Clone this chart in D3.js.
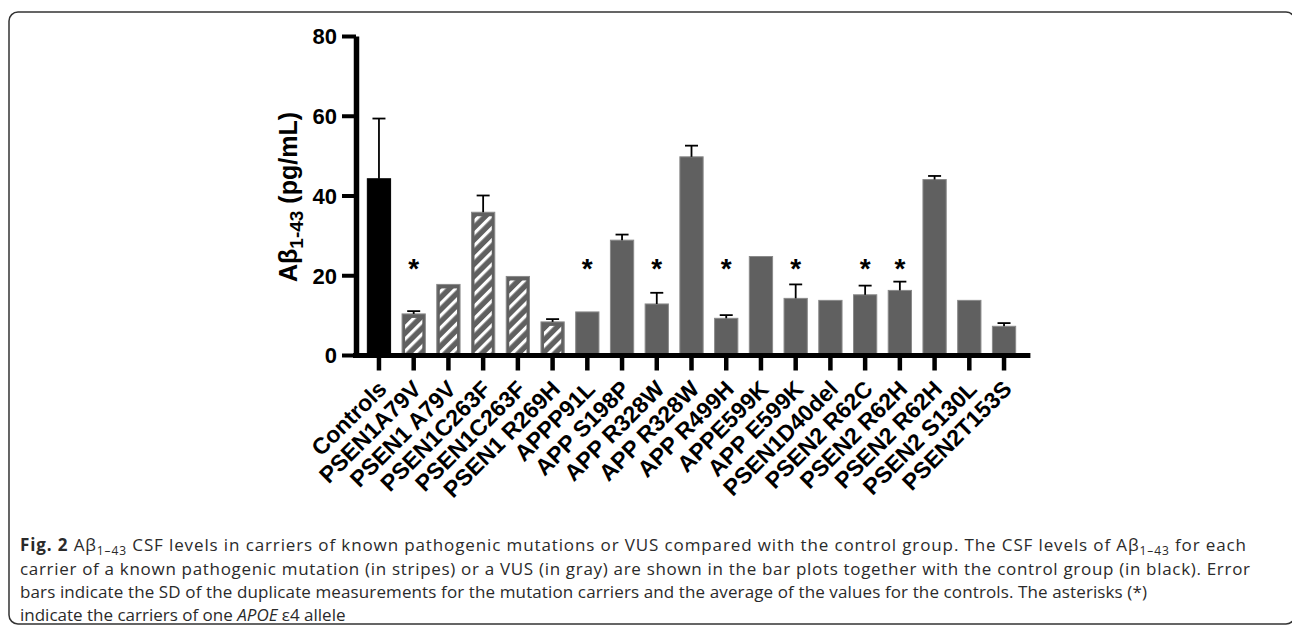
<!DOCTYPE html>
<html>
<head>
<meta charset="utf-8">
<script src="https://cdn.jsdelivr.net/npm/d3@7"></script>
<style>
	body { margin: 0; background: #fff; }
	svg { display: block; }
	.tick-lbl { font-family: "Liberation Sans", Arial, sans-serif; font-weight: bold; font-size: 22px; fill: #000; }
	.caption { font-family: "Open Sans", "Noto Sans", sans-serif; font-size: 17px; fill: #2a2a2a; }
</style>
</head>
<body>
<svg id="chart"></svg>
<script>
// bar categories, left to right
let categories = ['Controls', 'PSEN1A79V', 'PSEN1 A79V', 'PSEN1C263F', 'PSEN1C263F', 'PSEN1 R269H',
	'APPP91L', 'APP S198P', 'APP R328W', 'APP R328W', 'APP R499H', 'APPE599K', 'APP E599K',
	'PSEN1D40del', 'PSEN2 R62C', 'PSEN2 R62H', 'PSEN2 R62H', 'PSEN2 S130L', 'PSEN2T153S'];

// mean Abeta 1-43 (pg/mL)
let values = [44.2, 10.3, 17.7, 35.8, 19.7, 8.3, 10.8, 28.8, 12.8, 49.7, 9.2, 24.7, 14.2, 13.7, 15.1, 16.2, 44.0, 13.7, 7.2];
// upper error bar length (SD), 0 = no visible bar
let errors = [15.1, 0.7, 0, 4.2, 0, 0.7, 0, 1.4, 2.8, 2.8, 0.8, 0, 3.5, 0, 2.3, 2.2, 0.9, 0, 0.8];
// control / known pathogenic (stripes) / VUS (gray)
let groups = ['control', 'known', 'known', 'known', 'known', 'known', 'vus', 'vus', 'vus', 'vus',
	'vus', 'vus', 'vus', 'vus', 'vus', 'vus', 'vus', 'vus', 'vus'];
// carriers of one APOE e4 allele
let apoe4 = [0, 1, 0, 0, 0, 0, 1, 0, 1, 0, 1, 0, 1, 0, 1, 1, 0, 0, 0];
let yTicks = [0, 20, 40, 60, 80];

let w = 1292, h = 626;
let chart = d3.select('#chart').attr('width', w).attr('height', h);

// frame round the figure
chart.append('rect')
	.attr('x', 9).attr('y', 12)
	.attr('width', 1286).attr('height', 612)
	.attr('rx', 9)
	.attr('fill', 'none')
	.attr('stroke', '#333')
	.attr('stroke-width', 1.5);

// white diagonal stripes
let defs = chart.append('defs');
defs.append('pattern')
	.attr('id', 'stripes')
	.attr('patternUnits', 'userSpaceOnUse')
	.attr('width', 8.6).attr('height', 10)
	.attr('patternTransform', 'rotate(45)')
	.append('rect')
	.attr('width', 3.2).attr('height', 10)
	.attr('fill', '#fff');

let xScale = d3.scaleBand()
	.domain(d3.range(categories.length))
	.range([361.6, 1021.4])
	.paddingInner(0.33)
	.paddingOuter(0.165);

let yScale = d3.scaleLinear()
	.domain([0, 80])
	.range([355, 36]);

let axisX = 355.5;

// bars
let bars = chart.append('g');
bars.selectAll('rect.bar')
	.data(values)
	.enter()
	.append('rect')
	.attr('class', 'bar')
	.attr('x', (d, i) => xScale(i))
	.attr('y', (d) => yScale(d))
	.attr('width', xScale.bandwidth())
	.attr('height', (d) => yScale(0) - yScale(d))
	.attr('fill', (d, i) => groups[i] == 'control' ? '#000' : '#606060')
	.attr('stroke', (d, i) => groups[i] == 'control' ? '#000' : '#8a8a8a')
	.attr('stroke-width', 1);

// stripes inset inside the known-mutation bars
bars.selectAll('rect.hatch')
	.data(values.map((d, i) => ({ v: d, i: i })).filter((d) => groups[d.i] == 'known'))
	.enter()
	.append('rect')
	.attr('class', 'hatch')
	.attr('x', (d) => xScale(d.i) + 3)
	.attr('y', (d) => yScale(d.v) + 4)
	.attr('width', xScale.bandwidth() - 6)
	.attr('height', (d) => yScale(0) - yScale(d.v) - 4)
	.attr('fill', 'url(#stripes)');

// error bars (upper half only)
let errs = chart.append('g').attr('stroke', '#000').attr('stroke-width', 1.8);
values.forEach(function (d, i) {
	if (!errors[i]) return;
	let cx = xScale(i) + xScale.bandwidth() / 2;
	errs.append('line')
		.attr('x1', cx).attr('x2', cx)
		.attr('y1', yScale(d)).attr('y2', yScale(d + errors[i]));
	errs.append('line')
		.attr('x1', cx - 6.5).attr('x2', cx + 6.5)
		.attr('y1', yScale(d + errors[i])).attr('y2', yScale(d + errors[i]));
});

// asterisks
chart.append('g').selectAll('text')
	.data(apoe4.map((d, i) => ({ s: d, i: i })).filter((d) => d.s))
	.enter()
	.append('text')
	.attr('x', (d) => xScale(d.i) + xScale.bandwidth() / 2)
	.attr('y', yScale(22.5))
	.attr('dy', '0.45em')
	.attr('text-anchor', 'middle')
	.attr('class', 'tick-lbl')
	.style('font-size', '28px')
	.text('*');

// y axis
let yAxis = d3.axisLeft(yScale).tickValues(yTicks).tickSize(14).tickSizeOuter(0).tickPadding(5);
let yAxisGroup = chart.append('g')
	.attr('transform', 'translate(356,0)')
	.call(yAxis);
yAxisGroup.select('.domain').attr('stroke-width', 5.5).attr('stroke', '#000');
yAxisGroup.selectAll('.tick line').attr('stroke-width', 4).attr('stroke', '#000');
yAxisGroup.selectAll('.tick text').attr('class', 'tick-lbl').attr('dy', '0.36em');

// x axis
let xAxis = d3.axisBottom(xScale).tickSize(15).tickSizeOuter(0).tickFormat((i) => categories[i]);
let xAxisGroup = chart.append('g')
	.attr('transform', `translate(0,${axisX})`)
	.call(xAxis);
xAxisGroup.select('.domain').remove();
xAxisGroup.selectAll('.tick line').attr('stroke-width', 4.5).attr('stroke', '#000');
xAxisGroup.selectAll('.tick text')
	.attr('class', 'tick-lbl')
	.style('font-size', '23px')
	.attr('x', 0).attr('y', 0).attr('dy', 0)
	.attr('text-anchor', 'end')
	.attr('transform', 'translate(9,35) rotate(-45)');
chart.append('line')
	.attr('x1', 353).attr('x2', xScale.range()[1] + 9)
	.attr('y1', axisX).attr('y2', axisX)
	.attr('stroke', '#000').attr('stroke-width', 5);

// y axis title
let yTitle = chart.append('text')
	.attr('class', 'tick-lbl')
	.style('font-size', '25px')
	.attr('text-anchor', 'middle')
	.attr('transform', 'translate(297,197) rotate(-90)');
yTitle.append('tspan').text('Aβ');
yTitle.append('tspan').attr('dy', 6).style('font-size', '19px').text('1-43');
yTitle.append('tspan').attr('dy', -6).text(' (pg/mL)');

// caption
let capX = 20;
let line1 = chart.append('text').attr('class', 'caption').attr('x', capX).attr('y', 551)
	.attr('textLength', 1226).attr('lengthAdjust', 'spacing');
line1.append('tspan').style('font-weight', 'bold').text('Fig. 2');
line1.append('tspan').text(' Aβ');
line1.append('tspan').attr('dy', 4).style('font-size', '12px').text('1–43');
line1.append('tspan').attr('dy', -4).text(' CSF levels in carriers of known pathogenic mutations or VUS compared with the control group. The CSF levels of Aβ');
line1.append('tspan').attr('dy', 4).style('font-size', '12px').text('1–43');
line1.append('tspan').attr('dy', -4).text(' for each');

chart.append('text').attr('class', 'caption').attr('x', capX).attr('y', 574.5)
	.attr('textLength', 1230).attr('lengthAdjust', 'spacing')
	.text('carrier of a known pathogenic mutation (in stripes) or a VUS (in gray) are shown in the bar plots together with the control group (in black). Error');

chart.append('text').attr('class', 'caption').attr('x', capX).attr('y', 598)
	.attr('textLength', 1127).attr('lengthAdjust', 'spacing')
	.text('bars indicate the SD of the duplicate measurements for the mutation carriers and the average of the values for the controls. The asterisks (*)');

let line4 = chart.append('text').attr('class', 'caption').attr('x', capX).attr('y', 621);
line4.append('tspan').text('indicate the carriers of one ');
line4.append('tspan').style('font-style', 'italic').text('APOE');
line4.append('tspan').text(' ε4 allele');
</script>
</body>
</html>
